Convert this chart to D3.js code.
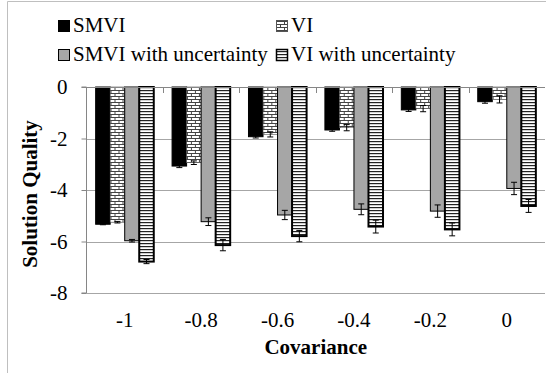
<!DOCTYPE html>
<html>
<head>
<meta charset="utf-8">
<script src="https://cdn.jsdelivr.net/npm/d3@7/dist/d3.min.js"></script>
<style>
  html, body { margin: 0; padding: 0; background: #fff; }
  svg { display: block; }
  svg text { font-family: "Liberation Serif", "Times New Roman", serif; }
</style>
</head>
<body>
<svg id="chart" width="546" height="373"></svg>
<script>
// Covariance settings on the x axis
const categories = ["-1", "-0.8", "-0.6", "-0.4", "-0.2", "0"];
const seriesNames = ["SMVI", "VI", "SMVI with uncertainty", "VI with uncertainty"];

// Mean solution quality per series
const smvi     = [-5.33, -3.07, -1.93, -1.67, -0.89, -0.57];
const vi       = [-5.25, -2.94, -1.84, -1.58, -0.84, -0.48];
const smviUnc  = [-5.97, -5.23, -4.97, -4.75, -4.82, -3.94];
const viUnc    = [-6.78, -6.14, -5.79, -5.42, -5.53, -4.62];

// Error half-widths per series
const smviErr    = [0.02, 0.06, 0.05, 0.05, 0.06, 0.06];
const viErr      = [0.03, 0.07, 0.10, 0.12, 0.12, 0.14];
const smviUncErr = [0.05, 0.15, 0.18, 0.21, 0.24, 0.24];
const viUncErr   = [0.08, 0.22, 0.22, 0.25, 0.25, 0.25];

const yTicks = [0, -2, -4, -6, -8];

const values = [smvi, vi, smviUnc, viUnc];
const errors = [smviErr, viErr, smviUncErr, viUncErr];

const FONT = 21;
const svg = d3.select("#chart");
const defs = svg.append("defs");

// Horizontal brick fill
const brick = defs.append("pattern")
  .attr("id", "brick").attr("patternUnits", "userSpaceOnUse")
  .attr("width", 8).attr("height", 6);
brick.append("rect").attr("width", 8).attr("height", 6).attr("fill", "#fff");
brick.append("path")
  .attr("d", "M0,0.5H8M0,3.5H8M0.5,0V3M4.5,3V6")
  .attr("stroke", "#444").attr("stroke-width", 1).attr("fill", "none");

// Horizontal stripe fill
const stripe = defs.append("pattern")
  .attr("id", "stripe").attr("patternUnits", "userSpaceOnUse")
  .attr("width", 6).attr("height", 3);
stripe.append("rect").attr("width", 6).attr("height", 3).attr("fill", "#fff");
stripe.append("rect").attr("width", 6).attr("height", 1.2).attr("fill", "#222");

const styles = [
  { fill: "#000", stroke: "#000", sw: 1 },
  { fill: "url(#brick)", stroke: "#555", sw: 0.6 },
  { fill: "#a6a6a6", stroke: "#000", sw: 1 },
  { fill: "url(#stripe)", stroke: "#000", sw: 2 }
];

// Chart frame
svg.append("path")
  .attr("d", "M7.5,373V1.5H546")
  .attr("fill", "none").attr("stroke", "#bfbfbf").attr("stroke-width", 1);

const plot = { left: 86.5, right: 545, top: 87, bottom: 293 };

const x = d3.scaleBand().domain(categories).range([plot.left, plot.right]);
const x1 = d3.scaleBand().domain(d3.range(seriesNames.length))
  .range([0, x.bandwidth()]).paddingInner(0).paddingOuter(0.63);
const y = d3.scaleLinear().domain([-8, 0]).range([plot.bottom, plot.top]);

// Gridlines
svg.append("g").selectAll("line").data(yTicks.filter(d => d !== 0)).join("line")
  .attr("x1", plot.left).attr("x2", plot.right)
  .attr("y1", d => Math.round(y(d)) + 0.5).attr("y2", d => Math.round(y(d)) + 0.5)
  .attr("stroke", "#a6a6a6").attr("stroke-width", 1);

// Bars
const groups = svg.append("g").selectAll("g").data(categories).join("g")
  .attr("transform", c => `translate(${x(c)},0)`);

seriesNames.forEach((name, s) => {
  groups.append("rect")
    .attr("x", x1(s))
    .attr("y", y(0))
    .attr("width", x1.bandwidth())
    .attr("height", (c, i) => y(values[s][i]) - y(0))
    .attr("fill", styles[s].fill)
    .attr("stroke", styles[s].stroke)
    .attr("stroke-width", styles[s].sw);
});

// Error bars
seriesNames.forEach((name, s) => {
  groups.each(function(c, i) {
    const g = d3.select(this);
    const cx = x1(s) + x1.bandwidth() / 2;
    const v = values[s][i], e = errors[s][i];
    const lo = y(v - e), hi = y(v + e);
    g.append("path")
      .attr("d", `M${cx},${hi}V${lo}M${cx - 3},${hi}H${cx + 3}M${cx - 3},${lo}H${cx + 3}`)
      .attr("stroke", "#000").attr("stroke-width", 1).attr("fill", "none");
  });
});

// Y axis
const yAxis = d3.axisLeft(y).tickValues(yTicks).tickSize(5).tickPadding(14)
  .tickFormat(d => String(d));
const gy = svg.append("g").attr("transform", `translate(${plot.left},0)`).call(yAxis)
  .attr("font-family", null).attr("font-size", null);
gy.select(".domain").attr("stroke", "#868686").attr("d", `M-5,${plot.top}H0V${plot.bottom}H-5`);
gy.selectAll(".tick line").attr("stroke", "#868686");
gy.selectAll(".tick text").attr("font-size", FONT).attr("fill", "#000").attr("dy", "0.33em");

// X axis line at zero with inward ticks; labels below plot
const xAxisLine = svg.append("g");
xAxisLine.append("line").attr("x1", plot.left).attr("x2", plot.right)
  .attr("y1", y(0) + 0.5).attr("y2", y(0) + 0.5).attr("stroke", "#868686");
const boundaries = categories.map(c => x(c)).concat([plot.right]);
xAxisLine.selectAll("line.tk").data(boundaries.slice(1, -1)).join("line")
  .attr("class", "tk")
  .attr("x1", d => Math.round(d) + 0.5).attr("x2", d => Math.round(d) + 0.5)
  .attr("y1", y(0)).attr("y2", y(0) + 6).attr("stroke", "#868686");

svg.append("g").selectAll("text").data(categories).join("text")
  .attr("x", c => x(c) + x.bandwidth() / 2)
  .attr("y", 327)
  .attr("text-anchor", "middle")
  .attr("font-size", FONT)
  .text(c => c);

// Axis titles
svg.append("text")
  .attr("x", (plot.left + plot.right) / 2)
  .attr("y", 354)
  .attr("text-anchor", "middle")
  .attr("font-size", FONT).attr("font-weight", "bold")
  .text("Covariance");

svg.append("text")
  .attr("transform", `translate(37,194) rotate(-90)`)
  .attr("text-anchor", "middle")
  .attr("font-size", FONT).attr("font-weight", "bold")
  .text("Solution Quality");

// Legend
const legendPos = [
  { x: 58, y: 32 }, { x: 276, y: 32 },
  { x: 58, y: 61 }, { x: 276, y: 61 }
];
const legend = svg.append("g");
seriesNames.forEach((name, s) => {
  const p = legendPos[s];
  legend.append("rect")
    .attr("x", p.x + 0.5).attr("y", p.y - 11.5)
    .attr("width", 11).attr("height", 11)
    .attr("fill", styles[s].fill)
    .attr("stroke", s === 1 ? "#555" : "#000")
    .attr("stroke-width", s === 3 ? 1.5 : 1);
  legend.append("text")
    .attr("x", p.x + 15).attr("y", p.y)
    .attr("font-size", FONT)
    .text(name);
});
</script>
</body>
</html>
